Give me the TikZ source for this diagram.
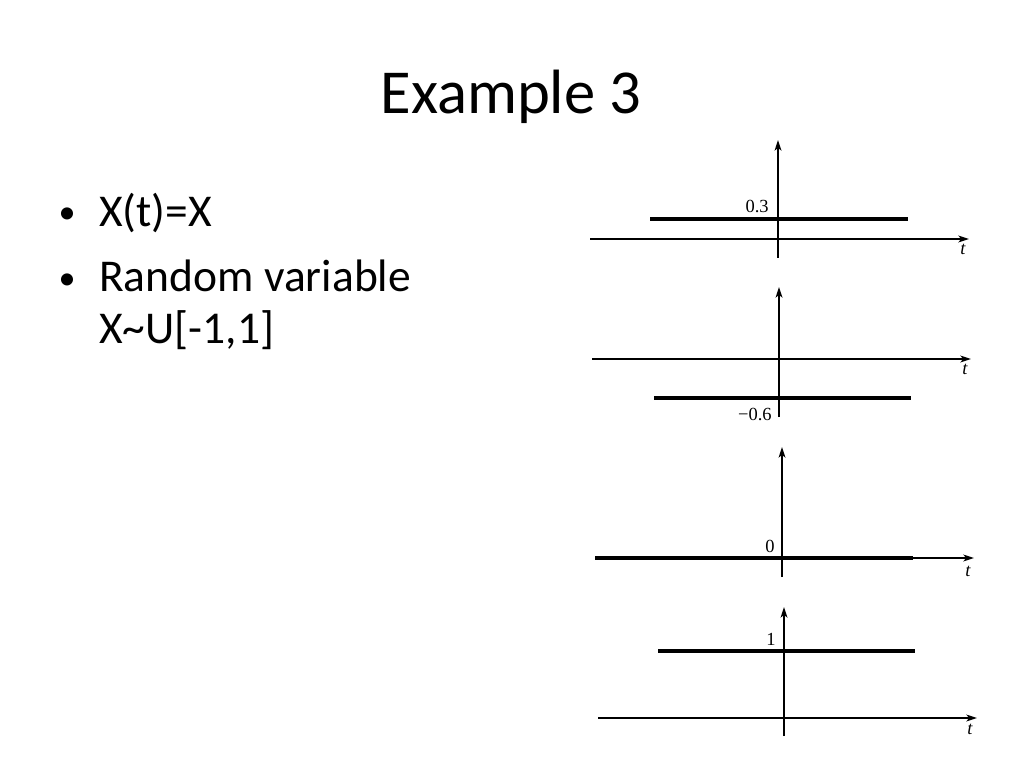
\documentclass[tikz,border=0pt]{standalone}
\usepackage{fontspec}
\setmainfont{Carlito}
\newfontfamily\plotfont{Liberation Serif}
\usetikzlibrary{arrows.meta}
\begin{document}
\begin{tikzpicture}[x=0.703125pt,y=-0.703125pt,
  axisline/.style={line width=1.05pt,-{Stealth[length=7.5pt,width=4.8pt,inset=2pt]}},
  levelline/.style={line width=2.3pt},
  vallabel/.style={font=\plotfont\fontsize{13}{15}\selectfont,inner sep=0pt,anchor=base east},
  tlabel/.style={font=\plotfont\itshape\fontsize{13}{15}\selectfont,inner sep=0pt,anchor=base},
  bodytext/.style={font=\fontsize{32}{38}\selectfont,inner sep=0pt,anchor=base west},
  bulletmark/.style={font=\fontsize{24}{30}\selectfont,inner sep=0pt,anchor=base}]
\useasboundingbox[fill=white] (0,0) rectangle (1024,768);

% title
\node[font=\fontsize{44}{53}\selectfont,inner sep=0pt,anchor=base] (title) at (511,114) {Example 3};

% bullets
\node[bulletmark] (b1) at (67,224) {•};
\node[bodytext] (l1) at (99,227) {X(t)=X};
\node[bulletmark] (b2) at (67,289) {•};
\node[bodytext] (l2) at (99,292) {Random variable};
\node[bodytext] (l3) at (99,343) {X\char"007E U[-1,1]};

% plot 1 : 0.3
\coordinate (p1vb) at (778,258);
\coordinate (p1vt) at (778,140);
\coordinate (p1hl) at (590,239);
\coordinate (p1hr) at (969,239);
\coordinate (p1ll) at (650,219);
\coordinate (p1lr) at (908,219);
\draw[axisline] (p1vb) -- (p1vt);
\draw[axisline] (p1hl) -- (p1hr);
\draw[levelline] (p1ll) -- (p1lr);
\node[vallabel] (p1v) at (769,213) {0.3};
\node[tlabel] (p1t) at (963,255) {t};

% plot 2 : -0.6
\coordinate (p2vb) at (779,417);
\coordinate (p2vt) at (779,287);
\coordinate (p2hl) at (592,359);
\coordinate (p2hr) at (971,359);
\coordinate (p2ll) at (654,398);
\coordinate (p2lr) at (911,398);
\draw[axisline] (p2vb) -- (p2vt);
\draw[axisline] (p2hl) -- (p2hr);
\draw[levelline] (p2ll) -- (p2lr);
\node[vallabel] (p2v) at (772,420) {\textminus0.6};
\node[tlabel] (p2t) at (965,374) {t};

% plot 3 : 0
\coordinate (p3vb) at (782,577);
\coordinate (p3vt) at (782,447);
\coordinate (p3hl) at (595,558);
\coordinate (p3hr) at (974,558);
\coordinate (p3ll) at (595,558);
\coordinate (p3lr) at (913,558);
\draw[axisline] (p3vb) -- (p3vt);
\draw[axisline] (p3hl) -- (p3hr);
\draw[levelline] (p3ll) -- (p3lr);
\node[vallabel] (p3v) at (775,552) {0};
\node[tlabel] (p3t) at (968,576) {t};

% plot 4 : 1
\coordinate (p4vb) at (784,736);
\coordinate (p4vt) at (784,607);
\coordinate (p4hl) at (598,718);
\coordinate (p4hr) at (977,718);
\coordinate (p4ll) at (658,651);
\coordinate (p4lr) at (915,651);
\draw[axisline] (p4vb) -- (p4vt);
\draw[axisline] (p4hl) -- (p4hr);
\draw[levelline] (p4ll) -- (p4lr);
\node[vallabel] (p4v) at (776,645) {1};
\node[tlabel] (p4t) at (970,734) {t};
\end{tikzpicture}
\end{document}
